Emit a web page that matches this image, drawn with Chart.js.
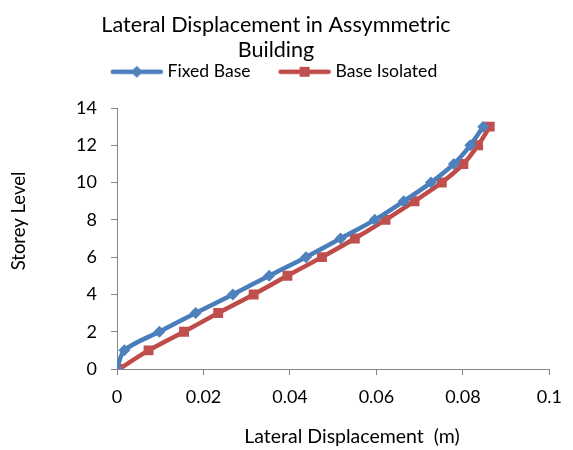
<!DOCTYPE html>
<html>
<head>
<meta charset="utf-8">
<script src="https://cdn.jsdelivr.net/npm/chart.js@4/dist/chart.umd.min.js"></script>
<style>
html,body{margin:0;padding:0;background:#fff;}
#wrap{width:573px;height:450px;position:relative;}
</style>
</head>
<body>
<div id="wrap"><canvas id="c" width="573" height="450"></canvas></div>
<script>
const storeyLevels = [0,1,2,3,4,5,6,7,8,9,10,11,12,13];
const fixedBase = [0,0.0017,0.0098,0.0182,0.0268,0.0352,0.0437,0.0517,0.0596,0.0663,0.0726,0.0779,0.0817,0.0847];
const baseIsolated = [0.0005,0.0073,0.0155,0.0234,0.0316,0.0394,0.0474,0.0550,0.0621,0.0688,0.0751,0.0801,0.0835,0.0862];
const xTicks = [0,0.02,0.04,0.06,0.08,0.1];
const yTicks = [0,2,4,6,8,10,12,14];
const seriesNames = ['Fixed Base','Base Isolated'];
const titleLines = ['Lateral Displacement in Assymmetric','Building'];
const xTitle = 'Lateral Displacement  (m)';
const yTitle = 'Storey Level';

const FONT = 'Lato, "Open Sans", sans-serif';
const BLUE_LINE = '#4A7EBB', BLUE_FILL = '#4F81BD';
const RED_LINE = '#BE4B48', RED_FILL = '#C0504D';

function toPoints(xs){ return xs.map((x,i)=>({x:x, y:storeyLevels[i]})); }

function legendImage(lineColor, fillColor, shape){
  const cv = document.createElement('canvas');
  cv.width = 54; cv.height = 14;
  const g = cv.getContext('2d');
  g.strokeStyle = lineColor; g.lineWidth = 4.5; g.lineCap = 'round';
  g.beginPath(); g.moveTo(3,7); g.lineTo(51,7); g.stroke();
  g.fillStyle = fillColor;
  g.beginPath();
  if (shape === 'diamond'){
    g.moveTo(27,1); g.lineTo(33,7); g.lineTo(27,13); g.lineTo(21,7); g.closePath();
  } else {
    g.rect(22,2,10,10);
  }
  g.fill();
  return cv;
}
const legendImgs = [legendImage(BLUE_LINE,BLUE_FILL,'diamond'), legendImage(RED_LINE,RED_FILL,'square')];

function wrapSize(box, fnName, h){
  if (!box || typeof box[fnName] !== 'function') return;
  const f = box[fnName].bind(box);
  box[fnName] = function(){ const r = f.apply(null, arguments); this.height = h; return r; };
}

const boxFix = {
  id:'boxFix',
  afterInit(chart){
    wrapSize(chart.titleBlock, 'update', 31);
    wrapSize(chart.legend, 'fit', 77);
  }
};

const axisTitles = {
  id:'axisTitles',
  afterDraw(chart){
    const ctx = chart.ctx;
    ctx.save();
    ctx.fillStyle = '#000';
    ctx.textAlign = 'center';
    ctx.textBaseline = 'middle';
    ctx.font = '19.5px ' + FONT;
    ctx.fillText(xTitle, 352, 437);
    ctx.font = '18.5px ' + FONT;
    ctx.translate(19, 221);
    ctx.rotate(-Math.PI/2);
    ctx.fillText(yTitle, 0, 0);
    ctx.restore();
  }
};

new Chart(document.getElementById('c'), {
  type:'scatter',
  data:{
    datasets:[
      {label:seriesNames[0], data:toPoints(fixedBase), showLine:true, borderColor:BLUE_LINE, backgroundColor:BLUE_FILL,
       borderWidth:4.5, pointStyle:'rectRot', pointRadius:6, pointBorderWidth:0, pointBackgroundColor:BLUE_FILL, tension:0.3},
      {label:seriesNames[1], data:toPoints(baseIsolated), showLine:true, borderColor:RED_LINE, backgroundColor:RED_FILL,
       borderWidth:4.5, pointStyle:'rect', pointRadius:7, pointBorderWidth:0, pointBackgroundColor:RED_FILL, tension:0.3}
    ]
  },
  options:{
    responsive:false,
    animation:false,
    devicePixelRatio:1,
    layout:{padding:{left:0,right:21,top:0,bottom:0}},
    plugins:{
      title:{display:true, text:titleLines, color:'#000', font:{family:FONT, size:21.6, weight:'normal', lineHeight:1.16}, padding:{top:12.5,bottom:0}},
      legend:{display:true, position:'top',
        labels:{usePointStyle:true, pointStyleWidth:44, padding:32, color:'#000', font:{family:FONT, size:17.6},
          generateLabels(chart){
            return chart.data.datasets.map((ds,i)=>({text:ds.label, pointStyle:legendImgs[i], fillStyle:ds.backgroundColor, strokeStyle:ds.borderColor, lineWidth:0, hidden:false, datasetIndex:i, fontColor:'#000'}));
          }
        }
      },
      tooltip:{enabled:false}
    },
    scales:{
      x:{type:'linear', min:0, max:0.1,
        afterFit(s){ s.height = 81; },
        afterBuildTicks(s){ s.ticks = xTicks.map(v=>({value:v})); },
        ticks:{color:'#000', font:{family:FONT, size:18}, padding:11, maxRotation:0, callback:(v)=>String(v)},
        grid:{drawOnChartArea:false, drawTicks:true, tickLength:6, color:'#868686'},
        border:{display:true, color:'#868686', width:1}
      },
      y:{type:'linear', min:0, max:14,
        afterFit(s){ s.width = 117; },
        afterBuildTicks(s){ s.ticks = yTicks.map(v=>({value:v})); },
        ticks:{color:'#000', font:{family:FONT, size:18}, padding:14, callback:(v)=>String(v)},
        grid:{drawOnChartArea:false, drawTicks:true, tickLength:6, color:'#868686'},
        border:{display:true, color:'#868686', width:1}
      }
    }
  },
  plugins:[boxFix, axisTitles]
});
</script>
</body>
</html>
